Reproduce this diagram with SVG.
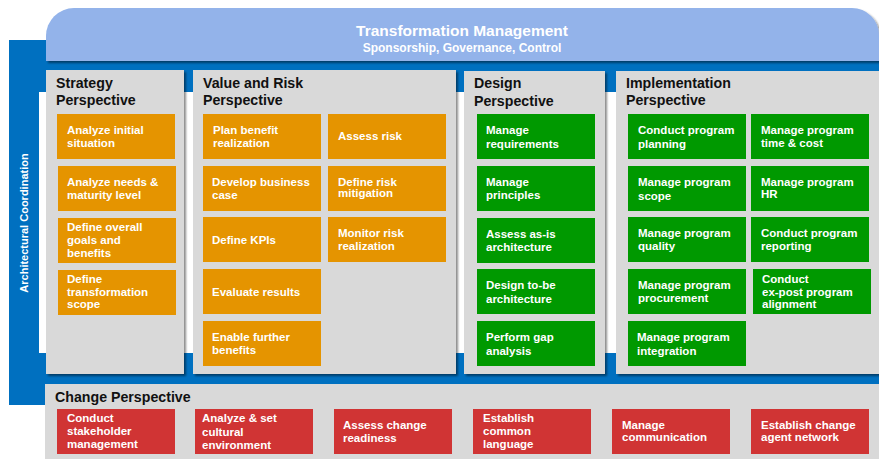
<svg xmlns="http://www.w3.org/2000/svg" width="879" height="459" viewBox="0 0 879 459">
<defs>
<filter id="sh" x="-5%" y="-5%" width="115%" height="115%">
<feDropShadow dx="2" dy="2" stdDeviation="1.2" flood-color="#000" flood-opacity="0.45"/>
</filter>
<style>
.panel{fill:#d9d9d9;filter:url(#sh)}
.o{fill:#e59400}
.g{fill:#009900}
.r{fill:#d03434}
.bt{font-family:"Liberation Sans",Arial,sans-serif;font-weight:bold;font-size:11.5px;fill:#fff}
.pt{font-family:"Liberation Sans",Arial,sans-serif;font-weight:bold;font-size:14.2px;fill:#111}
.tt{font-family:"Liberation Sans",Arial,sans-serif;font-weight:bold;fill:#fff}
</style>
</defs>
<rect width="879" height="459" fill="#fff"/>
<g id="frame">
<rect x="9" y="40" width="870" height="365" fill="#0070c0"/>
<rect x="39" y="92" width="840" height="261" fill="#fff"/>
<text class="tt" font-size="11" transform="translate(28,223) rotate(-90)" text-anchor="middle">Architectural Coordination</text>
</g>
<g id="banner">
<path d="M46,61 V36 A28,28 0 0 1 74,8 H852 A27,27 0 0 1 879,35 V61 Z" fill="#93b3ea" filter="url(#sh)"/>
<text class="tt" font-size="15.5" x="462" y="36" text-anchor="middle">Transformation Management</text>
<text class="tt" font-size="12" x="462" y="52" text-anchor="middle">Sponsorship, Governance, Control</text>
</g>
<g id="strategy">
<rect class="panel" x="46" y="70" width="138" height="304"/>
<text class="pt" x="56" y="88">Strategy<tspan x="56" y="105">Perspective</tspan></text>
</g>
<g id="value-risk">
<rect class="panel" x="193" y="70" width="263" height="304"/>
<text class="pt" x="203" y="88">Value and Risk<tspan x="203" y="105">Perspective</tspan></text>
</g>
<g id="design">
<rect class="panel" x="464" y="71" width="141" height="303"/>
<text class="pt" x="474" y="88">Design<tspan x="474" y="106">Perspective</tspan></text>
</g>
<g id="implementation">
<rect class="panel" x="616" y="71" width="263" height="303"/>
<text class="pt" x="626" y="88">Implementation<tspan x="626" y="105">Perspective</tspan></text>
</g>
<g id="change">
<rect x="45" y="384" width="834" height="75" fill="#d9d9d9"/>
<text class="pt" x="55" y="402">Change Perspective</text>
</g>
<g id="connectors"/>
<g id="s1"><rect class="o" x="57" y="114" width="118" height="45"/><text class="bt" x="67" y="134">Analyze initial<tspan x="67" y="147">situation</tspan></text></g>
<g id="s2"><rect class="o" x="58" y="166" width="118" height="45"/><text class="bt" x="67" y="186">Analyze needs &amp;<tspan x="67" y="199">maturity level</tspan></text></g>
<g id="s3"><rect class="o" x="58" y="218" width="118" height="45"/><text class="bt" x="67" y="231">Define overall<tspan x="67" y="244">goals and</tspan><tspan x="67" y="257">benefits</tspan></text></g>
<g id="s4"><rect class="o" x="58" y="270" width="118" height="45"/><text class="bt" x="67" y="283">Define<tspan x="67" y="296">transformation</tspan><tspan x="67" y="308">scope</tspan></text></g>
<g id="v1"><rect class="o" x="203" y="114" width="118" height="45"/><text class="bt" x="213" y="134">Plan benefit<tspan x="213" y="147">realization</tspan></text></g>
<g id="v2"><rect class="o" x="203" y="166" width="118" height="45"/><text class="bt" x="212" y="186">Develop business<tspan x="212" y="199">case</tspan></text></g>
<g id="v3"><rect class="o" x="203" y="217" width="118" height="45"/><text class="bt" x="212" y="244">Define KPIs</text></g>
<g id="v4"><rect class="o" x="203" y="269" width="118" height="45"/><text class="bt" x="212" y="296">Evaluate results</text></g>
<g id="v5"><rect class="o" x="203" y="321" width="118" height="45"/><text class="bt" x="212" y="341">Enable further<tspan x="212" y="354">benefits</tspan></text></g>
<g id="v6"><rect class="o" x="328" y="114" width="118" height="45"/><text class="bt" x="338" y="140">Assess risk</text></g>
<g id="v7"><rect class="o" x="328" y="166" width="118" height="45"/><text class="bt" x="338" y="186">Define risk<tspan x="338" y="197">mitigation</tspan></text></g>
<g id="v8"><rect class="o" x="328" y="217" width="118" height="45"/><text class="bt" x="338" y="237">Monitor risk<tspan x="338" y="250">realization</tspan></text></g>
<g id="d1"><rect class="g" x="477" y="114" width="118" height="45"/><text class="bt" x="486" y="134">Manage<tspan x="486" y="148">requirements</tspan></text></g>
<g id="d2"><rect class="g" x="477" y="166" width="118" height="45"/><text class="bt" x="486" y="186">Manage<tspan x="486" y="199">principles</tspan></text></g>
<g id="d3"><rect class="g" x="477" y="218" width="118" height="45"/><text class="bt" x="486" y="238">Assess as-is<tspan x="486" y="251">architecture</tspan></text></g>
<g id="d4"><rect class="g" x="477" y="269" width="118" height="45"/><text class="bt" x="486" y="289">Design to-be<tspan x="486" y="303">architecture</tspan></text></g>
<g id="d5"><rect class="g" x="477" y="321" width="118" height="45"/><text class="bt" x="486" y="341">Perform gap<tspan x="486" y="355">analysis</tspan></text></g>
<g id="i1"><rect class="g" x="628" y="114" width="118" height="45"/><text class="bt" x="638" y="134">Conduct program<tspan x="638" y="148">planning</tspan></text></g>
<g id="i2"><rect class="g" x="628" y="166" width="118" height="45"/><text class="bt" x="638" y="186">Manage program<tspan x="638" y="200">scope</tspan></text></g>
<g id="i3"><rect class="g" x="628" y="217" width="118" height="45"/><text class="bt" x="638" y="237">Manage program<tspan x="638" y="250">quality</tspan></text></g>
<g id="i4"><rect class="g" x="628" y="269" width="118" height="45"/><text class="bt" x="638" y="289">Manage program<tspan x="638" y="302">procurement</tspan></text></g>
<g id="i5"><rect class="g" x="628" y="321" width="118" height="45"/><text class="bt" x="637" y="341">Manage program<tspan x="637" y="355">integration</tspan></text></g>
<g id="i6"><rect class="g" x="751" y="114" width="118" height="45"/><text class="bt" x="761" y="134">Manage program<tspan x="761" y="147">time &amp; cost</tspan></text></g>
<g id="i7"><rect class="g" x="751" y="166" width="118" height="45"/><text class="bt" x="761" y="186">Manage program<tspan x="761" y="198">HR</tspan></text></g>
<g id="i8"><rect class="g" x="751" y="217" width="118" height="45"/><text class="bt" x="761" y="237">Conduct program<tspan x="761" y="250">reporting</tspan></text></g>
<g id="i9"><rect class="g" x="753" y="269" width="118" height="45"/><text class="bt" x="762" y="283">Conduct<tspan x="762" y="296">ex-post program</tspan><tspan x="762" y="308">alignment</tspan></text></g>
<g id="c1"><rect class="r" x="57" y="409" width="118" height="45"/><text class="bt" x="67" y="422">Conduct<tspan x="67" y="435">stakeholder</tspan><tspan x="67" y="448">management</tspan></text></g>
<g id="c2"><rect class="r" x="195" y="409" width="118" height="45"/><text class="bt" x="202" y="422">Analyze &amp; set<tspan x="202" y="436">cultural</tspan><tspan x="202" y="449">environment</tspan></text></g>
<g id="c3"><rect class="r" x="334" y="409" width="118" height="45"/><text class="bt" x="343" y="429">Assess change<tspan x="343" y="442">readiness</tspan></text></g>
<g id="c4"><rect class="r" x="473" y="409" width="118" height="45"/><text class="bt" x="483" y="422">Establish<tspan x="483" y="435">common</tspan><tspan x="483" y="448">language</tspan></text></g>
<g id="c5"><rect class="r" x="612" y="409" width="118" height="45"/><text class="bt" x="622" y="429">Manage<tspan x="622" y="441">communication</tspan></text></g>
<g id="c6"><rect class="r" x="751" y="409" width="118" height="45"/><text class="bt" x="761" y="429">Establish change<tspan x="761" y="441">agent network</tspan></text></g>
</svg>
